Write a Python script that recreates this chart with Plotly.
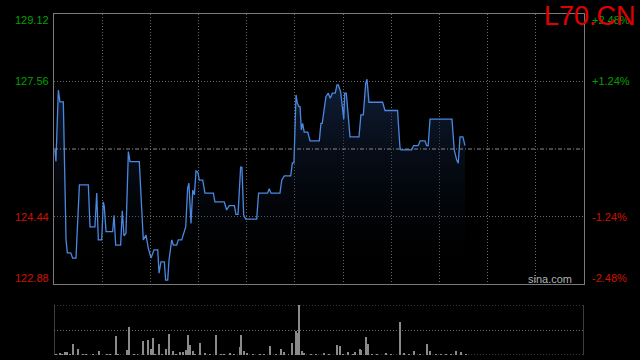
import plotly.graph_objects as go

# ---------------- data ----------------
prev_close = 126.00
session_len = 330

times = [0.6, 1.2, 2.7, 3.7, 5.8, 7.5, 8.3, 10.4, 11.6, 13.7, 15.8, 21.4, 22.4, 25.5,
         26.6, 27.6, 29.7, 30.7, 31.3, 32.4, 36.5, 37.4, 38.4, 41.5, 42.5, 43.6, 44.8,
         46.3, 47.3, 53.1, 55.6, 57.3, 58.7, 60.4, 62.3, 64.6, 65.4, 66.6, 68.7, 69.5,
         70.8, 71.6, 73.3, 74.3, 76.4, 77.4, 79.5, 80.5, 82.0, 83.2, 84.0, 85.3, 86.4,
         87.4, 88.4, 89.5, 90.5, 92.6, 94.0, 99.2, 100.2, 106.0, 107.5, 109.1, 112.3,
         113.3, 114.6, 116.2, 117.0, 118.1, 119.4, 126.2, 127.4, 133.0, 134.0, 135.1,
         140.7, 141.8, 143.4, 147.4, 148.4, 149.4, 150.7, 151.5, 152.5, 153.2, 154.0,
         154.8, 155.8, 158.0, 159.4, 165.2, 166.2, 167.0, 169.3, 170.8, 172.0, 173.3,
         175.1, 176.2, 177.0, 178.5, 180.4, 181.0, 182.0, 184.3, 189.9, 191.1, 192.6,
         194.1, 194.9, 196.1, 204.6, 206.1, 213.9, 215.4, 216.0, 222.7, 223.9, 226.8,
         228.0, 231.0, 232.0, 233.0, 234.1, 247.8, 249.2, 250.7, 251.7, 252.8, 254.6,
         255.9]
prices = [125.98, 125.71, 127.36, 127.09, 127.09, 123.90, 123.60, 123.60, 123.48, 123.48,
          125.17, 125.17, 124.20, 124.20, 124.98, 123.90, 123.90, 124.78, 124.67, 124.09,
          124.09, 124.47, 123.78, 123.78, 124.57, 123.99, 124.05, 125.94, 125.71, 125.71,
          123.90, 124.01, 123.71, 123.48, 123.67, 123.67, 123.13, 123.39, 123.39, 122.97,
          122.97, 123.43, 123.90, 123.78, 123.78, 123.90, 123.90, 124.01, 124.20, 125.09,
          125.21, 124.28, 125.05, 124.94, 125.49, 125.47, 125.28, 125.28, 124.98, 124.98,
          124.78, 124.78, 124.59, 124.69, 124.69, 124.49, 124.49, 125.58, 125.58, 124.47,
          124.38, 124.38, 124.98, 124.98, 125.08, 124.98, 124.98, 125.28, 125.38, 125.38,
          125.68, 125.68, 127.25, 127.06, 126.98, 126.98, 126.44, 126.59, 126.39, 126.39,
          126.19, 126.19, 126.59, 126.59, 127.21, 127.29, 127.17, 127.29, 127.29, 127.48,
          127.48, 127.32, 126.69, 127.29, 127.29, 126.28, 126.28, 126.79, 126.79, 127.53,
          127.61, 127.08, 127.08, 126.89, 126.89, 126.04, 125.98, 125.98, 126.08, 126.08,
          126.19, 126.19, 126.08, 126.08, 126.69, 126.69, 125.98, 125.75, 125.67, 126.28,
          126.28, 126.08]

vol_times = [1.0, 3.7, 5.0, 6.8, 8.3, 10.0, 12.0, 15.1, 18.0, 20.0, 24.0, 28.2, 33.0, 35.0,
             38.8, 40.0, 45.6, 46.9, 50.0, 52.0, 55.6, 58.7, 60.6, 61.8, 63.0, 65.6, 67.0,
             69.9, 71.8, 73.9, 76.0, 78.4, 80.5, 82.2, 83.0, 83.6, 84.9, 86.3, 88.0, 91.1,
             94.0, 97.0, 101.0, 104.0, 106.0, 109.6, 112.0, 116.0, 116.6, 118.5, 120.0,
             124.0, 128.0, 131.0, 134.5, 138.0, 141.5, 143.4, 146.0, 148.4, 150.9, 151.5,
             152.7, 154.6, 155.8, 160.0, 163.0, 168.1, 171.0, 176.4, 178.3, 180.0, 183.2,
             186.0, 187.6, 190.7, 191.3, 194.4, 195.7, 198.0, 201.0, 206.5, 210.0, 215.6,
             218.1, 221.0, 224.3, 228.0, 232.4, 234.3, 238.0, 241.0, 244.0, 247.0, 250.5,
             253.6, 256.3]
volumes = [80, 230, 80, 270, 330, 80, 1100, 600, 80, 80, 80, 400, 80, 80,
           1900, 80, 500, 2830, 80, 80, 1400, 1500, 600, 1700, 80, 1100, 80,
           600, 2100, 400, 80, 330, 330, 500, 500, 2000, 1000, 400, 80, 1200,
           230, 80, 2000, 80, 80, 230, 80, 800, 2000, 430, 230,
           80, 80, 80, 900, 80, 600, 330, 80, 1230, 2400, 2230,
           5000, 400, 230, 80, 80, 170, 80, 1000, 900, 80, 270,
           80, 270, 600, 500, 1800, 1100, 80, 80, 170, 80, 3270,
           170, 80, 400, 80, 1100, 400, 80, 80, 80, 80, 400,
           270, 100]
vol_max = 5000

left_ticks = [129.12, 127.56, 124.44, 122.88]
right_tick_labels = ["+2.48%", "+1.24%", "-1.24%", "-2.48%"]
title_text = "L70.CN"
watermark = "sina.com"

# ---------------- layout helpers ----------------
W, H = 640, 360
x0p, x1p = 54 / W, 584 / W
price_dom = [1 - 284 / H, 1 - 14 / H]
vol_dom = [1 - 355 / H, 1 - 305 / H]
FONT = "Arial, Liberation Sans, sans-serif"
GRID = "#6a6a6a"
FRAME = "#7a7a7a"
GREEN = "#00a000"
RED = "#d01000"

fig = go.Figure()

fig.add_trace(go.Scatter(
    x=times, y=prices, mode="lines",
    line=dict(color="#4a88e0", width=1.3),
    fill="tozeroy",
    fillgradient=dict(type="vertical",
                      colorscale=[[0, "rgba(0,0,0,0)"], [1, "rgba(28,52,95,0.6)"]],
                      start=left_ticks[-1], stop=127.6),
    hoverinfo="skip", xaxis="x", yaxis="y"))

fig.add_trace(go.Bar(
    x=vol_times, y=volumes, width=0.6,
    marker=dict(color="#8a8a8a", line=dict(width=0)),
    hoverinfo="skip", xaxis="x2", yaxis="y2"))

fig.update_layout(
    width=W, height=H,
    margin=dict(l=0, r=0, t=0, b=0),
    paper_bgcolor="black", plot_bgcolor="black",
    showlegend=False,
    xaxis=dict(domain=[x0p, x1p], range=[0, session_len], tick0=0, dtick=30,
               showgrid=True, gridcolor=GRID, griddash="1px,2px", gridwidth=1,
               showticklabels=False, zeroline=False, ticks="",
               showline=True, linecolor=FRAME, linewidth=1, mirror=True, anchor="y"),
    yaxis=dict(domain=price_dom, range=[left_ticks[-1], left_ticks[0]],
               tickvals=[left_ticks[1], left_ticks[2]],
               showgrid=True, gridcolor=GRID, griddash="1px,2px", gridwidth=1,
               showticklabels=False, zeroline=False, ticks="",
               showline=True, linecolor=FRAME, linewidth=1, mirror=True, anchor="x"),
    xaxis2=dict(domain=[x0p, x1p], range=[0, session_len], showgrid=False,
                showticklabels=False, zeroline=False, ticks="", anchor="y2"),
    yaxis2=dict(domain=vol_dom, range=[0, vol_max], tickvals=[vol_max / 2],
                showgrid=True, gridcolor=GRID, griddash="1px,2px", gridwidth=1,
                showticklabels=False, zeroline=False, ticks="", anchor="x2"),
    bargap=0,
)

# previous close dash-dot line
fig.add_shape(type="line", xref="x", yref="y", x0=0, x1=session_len,
              y0=prev_close, y1=prev_close,
              line=dict(color="#8a8a8a", width=1, dash="4px,2px,1px,2px"))

# volume panel frame: dotted top/bottom, solid sides
for yv in [0, vol_max]:
    fig.add_shape(type="line", xref="x2", yref="y2", x0=0, x1=session_len, y0=yv, y1=yv,
                  layer="below", line=dict(color=GRID, width=1, dash="1px,2px"))
for xv in [0, session_len]:
    fig.add_shape(type="line", xref="x2", yref="y2", x0=xv, x1=xv, y0=0, y1=vol_max,
                  line=dict(color=FRAME, width=1))

# tick labels
shifts = [-6, 0, 0, 6]
for v, lab, s in zip(left_ticks, right_tick_labels, shifts):
    col = GREEN if v > prev_close else RED
    fig.add_annotation(xref="paper", yref="y", x=51 / W, y=v, yshift=s,
                       text=f"{v:.2f}", showarrow=False, xanchor="right", yanchor="middle",
                       font=dict(family=FONT, size=11, color=col))
    fig.add_annotation(xref="paper", yref="y", x=590 / W, y=v, yshift=s,
                       text=lab, showarrow=False, xanchor="left", yanchor="middle",
                       font=dict(family=FONT, size=11, color=col))

fig.add_annotation(xref="paper", yref="paper", x=574 / W, y=1 - 279 / H,
                   text=watermark, showarrow=False, xanchor="right", yanchor="middle",
                   font=dict(family=FONT, size=11, color="#b0b0b0"))

fig.add_annotation(xref="paper", yref="paper", x=638 / W, y=1 - 16 / H,
                   text=title_text, showarrow=False, xanchor="right", yanchor="middle",
                   font=dict(family=FONT, size=27, color="#e00000"))

fig.write_html("out.html")
